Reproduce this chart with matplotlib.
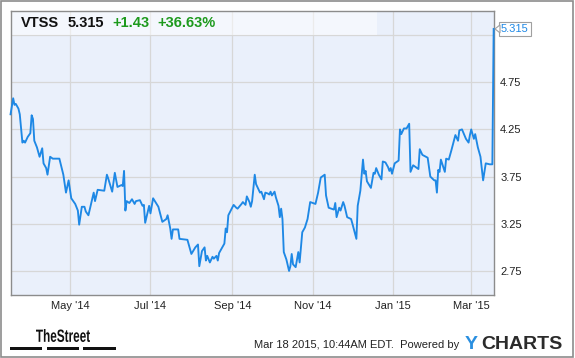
import matplotlib
matplotlib.use('Agg')
import matplotlib.pyplot as plt
import matplotlib.transforms as mtransforms
from matplotlib.patches import Rectangle, Polygon, PathPatch
from matplotlib.textpath import TextPath
from matplotlib.font_manager import FontProperties
import pandas as pd

# VTSS daily close
dates = [
    '2014-03-17', '2014-03-19', '2014-03-20', '2014-03-21', '2014-03-23', '2014-03-24', '2014-03-26',
    '2014-03-27', '2014-03-28', '2014-03-30',
    '2014-04-01', '2014-04-02', '2014-04-03', '2014-04-04', '2014-04-06', '2014-04-08', '2014-04-10',
    '2014-04-11', '2014-04-13', '2014-04-14', '2014-04-16', '2014-04-18', '2014-04-23', '2014-04-26',
    '2014-04-28', '2014-04-30',
    '2014-05-02', '2014-05-05', '2014-05-07', '2014-05-08', '2014-05-10', '2014-05-12', '2014-05-13',
    '2014-05-15', '2014-05-17', '2014-05-19', '2014-05-20', '2014-05-22', '2014-05-27', '2014-05-29',
    '2014-05-30',
    '2014-06-02', '2014-06-04', '2014-06-06', '2014-06-09', '2014-06-10', '2014-06-11', '2014-06-12',
    '2014-06-13', '2014-06-15', '2014-06-17', '2014-06-19', '2014-06-20', '2014-06-23', '2014-06-25',
    '2014-06-26', '2014-06-27', '2014-06-30',
    '2014-07-01', '2014-07-03', '2014-07-07', '2014-07-10', '2014-07-13', '2014-07-14', '2014-07-16',
    '2014-07-17', '2014-07-18', '2014-07-22', '2014-07-23', '2014-07-29',
    '2014-08-01', '2014-08-04', '2014-08-06', '2014-08-07', '2014-08-09', '2014-08-11', '2014-08-12',
    '2014-08-13', '2014-08-15', '2014-08-17', '2014-08-18', '2014-08-20', '2014-08-21', '2014-08-22',
    '2014-08-24', '2014-08-26', '2014-08-27', '2014-08-28', '2014-08-29',
    '2014-09-02', '2014-09-04', '2014-09-05', '2014-09-08', '2014-09-09', '2014-09-11', '2014-09-12',
    '2014-09-14', '2014-09-15', '2014-09-16', '2014-09-18', '2014-09-19', '2014-09-21', '2014-09-22',
    '2014-09-23', '2014-09-25', '2014-09-26', '2014-09-28', '2014-09-29', '2014-09-30',
    '2014-10-01', '2014-10-03', '2014-10-04', '2014-10-06', '2014-10-07', '2014-10-08', '2014-10-09',
    '2014-10-10', '2014-10-12', '2014-10-14', '2014-10-15', '2014-10-16', '2014-10-17', '2014-10-19',
    '2014-10-21', '2014-10-22', '2014-10-24', '2014-10-26', '2014-10-28', '2014-10-30',
    '2014-11-03', '2014-11-05', '2014-11-07', '2014-11-10', '2014-11-11', '2014-11-13', '2014-11-17',
    '2014-11-18', '2014-11-19', '2014-11-21', '2014-11-22', '2014-11-24', '2014-11-25', '2014-11-27',
    '2014-11-30',
    '2014-12-01', '2014-12-04', '2014-12-05', '2014-12-07', '2014-12-09', '2014-12-10', '2014-12-11',
    '2014-12-12', '2014-12-15', '2014-12-17', '2014-12-18', '2014-12-19', '2014-12-21', '2014-12-23',
    '2014-12-24', '2014-12-26', '2014-12-28', '2014-12-29', '2014-12-30', '2014-12-31',
    '2015-01-02', '2015-01-05', '2015-01-06', '2015-01-07', '2015-01-09', '2015-01-11', '2015-01-13',
    '2015-01-14', '2015-01-16', '2015-01-18', '2015-01-20', '2015-01-21', '2015-01-23', '2015-01-27',
    '2015-01-29',
    '2015-02-01', '2015-02-02', '2015-02-03', '2015-02-04', '2015-02-05', '2015-02-06', '2015-02-09',
    '2015-02-10', '2015-02-12', '2015-02-14', '2015-02-17', '2015-02-19', '2015-02-20', '2015-02-22',
    '2015-02-25', '2015-02-27', '2015-02-28',
    '2015-03-01', '2015-03-03', '2015-03-04', '2015-03-06', '2015-03-08', '2015-03-10', '2015-03-12',
    '2015-03-15', '2015-03-17', '2015-03-18',
]
prices = [
    4.41, 4.58, 4.51, 4.52, 4.47, 4.41, 4.11, 4.13, 4.11, 4.17,
    4.21, 4.40, 4.36, 4.13, 4.06, 3.96, 4.05, 3.89, 3.84, 3.77, 3.96, 3.94, 3.94, 3.77, 3.58, 3.71,
    3.52, 3.46, 3.39, 3.24, 3.43, 3.43, 3.38, 3.34, 3.46, 3.58, 3.49, 3.61, 3.60, 3.77, 3.73,
    3.59, 3.79, 3.64, 3.66, 3.65, 3.81, 3.39, 3.49, 3.47, 3.51, 3.46, 3.49, 3.50, 3.44, 3.45, 3.26, 3.44,
    3.36, 3.52, 3.43, 3.27, 3.30, 3.34, 3.20, 3.09, 3.19, 3.19, 3.09, 3.08,
    2.93, 3.00, 3.03, 2.80, 2.96, 3.00, 2.86, 2.91, 2.84, 2.90, 2.88, 2.91, 2.86, 2.94, 2.99, 3.04,
    3.20, 3.16, 3.34,
    3.45, 3.42, 3.41, 3.46, 3.48, 3.45, 3.54, 3.48, 3.43, 3.49, 3.77, 3.67, 3.61, 3.58, 3.59, 3.51,
    3.58, 3.57, 3.56, 3.59,
    3.55, 3.59, 3.53, 3.44, 3.32, 3.41, 3.30, 2.95, 2.87, 2.75, 2.80, 2.93, 2.82, 2.79, 2.95, 2.84,
    3.16, 3.21, 3.30, 3.48,
    3.46, 3.58, 3.74, 3.77, 3.55, 3.42, 3.40, 3.47, 3.32, 3.42, 3.39, 3.48, 3.44, 3.32, 3.30,
    3.25, 3.09, 3.44, 3.60, 3.93, 3.78, 3.81, 3.70, 3.63, 3.79, 3.78, 3.84, 3.77, 3.72, 3.91, 3.90,
    3.85, 3.81, 3.84, 3.78,
    3.89, 3.92, 4.25, 4.20, 4.26, 4.26, 4.31, 3.80, 3.87, 3.85, 3.83, 4.04, 3.98, 3.95, 3.75,
    3.71, 3.71, 3.58, 3.82, 3.80, 3.93, 3.80, 3.94, 3.93, 4.03, 4.19, 4.13, 4.24, 4.25, 4.15, 4.11, 4.19,
    4.25, 4.15, 4.20, 4.06, 3.96, 3.71, 3.89, 3.88, 3.88, 5.315,
]

ticker = 'VTSS'
last_txt = '5.315'
change_txt = '+1.43'
pct_txt = '+36.63%'

x_ticks = ['2014-05-01', '2014-07-01', '2014-09-01', '2014-11-01', '2015-01-01', '2015-03-01']
x_labels = ["May '14", "Jul '14", "Sep '14", "Nov '14", "Jan '15", "Mar '15"]
y_ticks = [2.75, 3.25, 3.75, 4.25, 4.75, 5.25]
# the 5.25 label sits behind the last-price callout in the original
y_labels = ['2.75', '3.25', '3.75', '4.25', '4.75', '']

W, H = 575, 358
FONT = 'Liberation Sans'
BLUE = '#1e88e5'


def px(x, y):
    # pixel position (from top-left) -> figure fraction
    return x / W, 1 - y / H


fig = plt.figure(figsize=(W / 100, H / 100), dpi=100)
fig.patch.set_facecolor('white')

l, t = px(10.7, 10.7)
r, b = px(494, 295)
ax = fig.add_axes([l, b, r - l, t - b])
ax.set_facecolor('#eaf0fb')

dt = pd.to_datetime(dates)
ax.plot(dt, prices, color=BLUE, lw=1.35, zorder=3, clip_on=False)

ax.set_xlim(pd.Timestamp('2014-03-17 03:00'), pd.Timestamp('2015-03-18 06:00'))
ax.set_ylim(2.495, 5.508)

ax.set_xticks(pd.to_datetime(x_ticks))
ax.set_xticklabels(x_labels, fontsize=8, family=FONT, color='#222222')
ax.set_yticks(y_ticks)
ax.set_yticklabels(y_labels, fontsize=8, family=FONT, color='#222222')
ax.yaxis.tick_right()
ax.tick_params(axis='both', length=0)
ax.tick_params(axis='y', pad=4.5)
ax.tick_params(axis='x', pad=4.5)

ax.set_axisbelow(True)
ax.grid(True, color='#d7d7d7', lw=0.9)
for s in ax.spines.values():
    s.set_color('#8c8c8c')
    s.set_linewidth(1.0)

# light header band behind the quote text
band = Rectangle((0, 5.25), (377 - 10.7) / (494 - 10.7), 1.0,
                 transform=mtransforms.blended_transform_factory(ax.transAxes, ax.transData),
                 facecolor='white', alpha=0.5, edgecolor='none', zorder=1)
ax.add_patch(band)

# header quote
hy = px(0, 23)[1]
fig.text(px(21, 0)[0], hy, ticker, fontsize=10.5, weight='bold', family=FONT, color='#111111', va='center')
fig.text(px(68, 0)[0], hy, last_txt, fontsize=10.5, weight='bold', family=FONT, color='#111111', va='center')
fig.text(px(112, 0)[0], hy, change_txt, fontsize=10.5, weight='bold', family=FONT, color='#1d9a1d', va='center')
fig.text(px(157, 0)[0], hy, pct_txt, fontsize=10.5, weight='bold', family=FONT, color='#1d9a1d', va='center')

# last value callout
ax.annotate(last_txt, xy=(1, prices[-1]), xycoords=('axes fraction', 'data'),
            xytext=(7, 0), textcoords='offset pixels', va='center', ha='left',
            fontsize=8, family=FONT, color=BLUE, zorder=5, annotation_clip=False,
            bbox=dict(boxstyle='square,pad=0.18', fc='white', ec='#a0a0a0', lw=0.8))
fig.canvas.draw()
yl = ax.transData.transform((0, prices[-1]))[1]
xr = ax.transAxes.transform((1, 0))[0]
tri = Polygon([(xr + 1, yl), (xr + 6, yl + 4), (xr + 6, yl - 4)], closed=True,
              facecolor='white', edgecolor='#a0a0a0', lw=0.8,
              transform=mtransforms.IdentityTransform(), zorder=6)
fig.add_artist(tri)

# footer
fig.text(*px(459, 345), 'Mar 18 2015, 10:44AM EDT.  Powered by', fontsize=8, family=FONT,
         color='#222222', ha='right', va='center')
fig.text(*px(465, 344.5), 'Y', fontsize=14, weight='bold', family=FONT, color='#2a8fe0', va='center')
fig.text(*px(481, 344.5), 'CHARTS', fontsize=14, weight='bold', family=FONT, color='#2b2b2b', va='center')

# TheStreet logo: condensed bold word squeezed into its box
tp = TextPath((0, 0), 'TheStreet', size=17, prop=FontProperties(family=FONT, weight='bold'))
ext = tp.get_extents()
sx = (90 - 36) / ext.width
sy = (342 - 329) / ext.height
logo_tr = mtransforms.Affine2D().translate(-ext.x0, -ext.y0).scale(sx, sy).translate(36, H - 342)
fig.add_artist(PathPatch(logo_tr.transform_path(tp), facecolor='#111111', edgecolor='none',
                         transform=mtransforms.IdentityTransform()))
for x0, x1 in [(10, 42), (47, 79), (83, 116)]:
    fx, fy = px(x0, 350)
    fig.add_artist(Rectangle((fx, fy), (x1 - x0) / W, 3 / H, transform=fig.transFigure,
                             facecolor='#111111', edgecolor='none'))

# outer frame
fx, fy = px(1, 357)
fig.add_artist(Rectangle((fx, fy), 572 / W, 356 / H, transform=fig.transFigure,
                         facecolor='none', edgecolor='#8c8c8c', lw=1.2))

fig.savefig('out.png', dpi=100)
